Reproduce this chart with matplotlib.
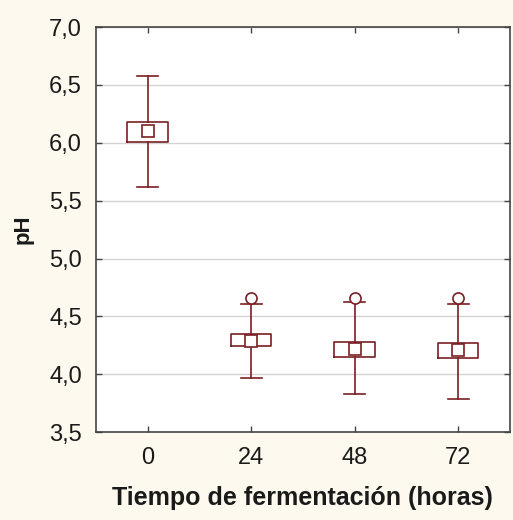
import matplotlib.pyplot as plt
from matplotlib.ticker import FuncFormatter

plt.rcParams['font.family'] = ['Liberation Sans', 'DejaVu Sans']

# data
horas = ['0', '24', '48', '72']
medias = [6.10, 4.29, 4.22, 4.21]
caja_sup = [6.18, 4.35, 4.28, 4.27]
caja_inf = [6.01, 4.24, 4.15, 4.14]
bigote_sup = [6.58, 4.61, 4.62, 4.61]
bigote_inf = [5.62, 3.97, 3.83, 3.79]
atipicos = [[], [4.655], [4.655], [4.655]]

rojo = '#7a1f24'
fondo = '#fdf9ee'

stats = []
for i in range(len(horas)):
    stats.append({
        'med': medias[i], 'mean': medias[i],
        'q1': caja_inf[i], 'q3': caja_sup[i],
        'whislo': bigote_inf[i], 'whishi': bigote_sup[i],
        'fliers': atipicos[i], 'label': horas[i],
    })

fig = plt.figure(figsize=(5.13, 5.2), dpi=100, facecolor=fondo)
ax = fig.add_axes([0.187, 0.169, 0.807, 0.779])
ax.set_facecolor('white')

ax.bxp(stats, positions=range(len(horas)), widths=0.39, capwidths=0.2,
       showmeans=True,
       boxprops=dict(color=rojo, linewidth=1.2),
       whiskerprops=dict(color=rojo, linewidth=1.2),
       capprops=dict(color=rojo, linewidth=1.2),
       medianprops=dict(linewidth=0),
       meanprops=dict(marker='s', markersize=8.5, markerfacecolor='white',
                      markeredgecolor=rojo, markeredgewidth=1.2),
       flierprops=dict(marker='o', markersize=8, markerfacecolor='white',
                       markeredgecolor=rojo, markeredgewidth=1.2))

ax.set_xlim(-0.5, 3.5)
ax.set_ylim(3.5, 7.0)
ax.set_yticks([3.5, 4.0, 4.5, 5.0, 5.5, 6.0, 6.5, 7.0])
ax.yaxis.set_major_formatter(FuncFormatter(lambda v, p: f'{v:.1f}'.replace('.', ',')))
ax.set_xticks(range(len(horas)))
ax.set_xticklabels(horas)
ax.grid(axis='y', color='#d4d4d4', linewidth=1)
ax.set_axisbelow(True)
ax.tick_params(direction='in', top=True, right=True, length=4, width=1,
               color='#444444', labelsize=17, labelcolor='#1a1a1a')
ax.tick_params(axis='y', pad=10)
ax.tick_params(axis='x', pad=11)
for s in ax.spines.values():
    s.set_color('#444444')
    s.set_linewidth(1.2)

ax.set_xlabel('Tiempo de fermentación (horas)', fontsize=18, fontweight='bold',
              labelpad=12, color='#1a1a1a')
ax.set_ylabel('pH', fontsize=16, fontweight='bold', labelpad=11, color='#1a1a1a')

fig.savefig('out.png', dpi=100, facecolor=fondo)
